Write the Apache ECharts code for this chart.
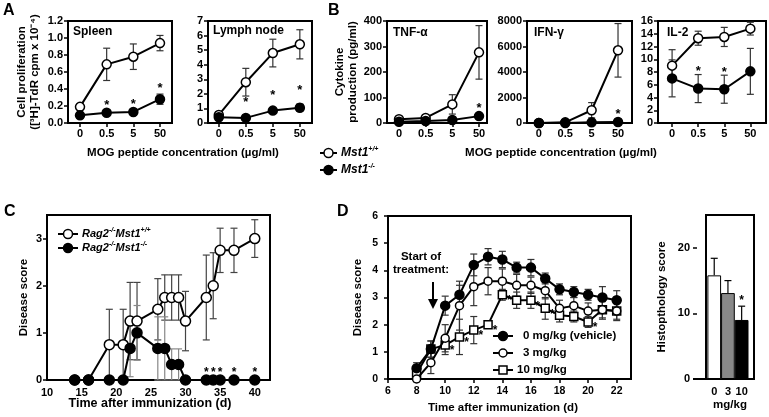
<!DOCTYPE html>
<html><head><meta charset="utf-8">
<script src="https://cdn.jsdelivr.net/npm/echarts@6/dist/echarts.min.js"></script>
<style>html,body{margin:0;padding:0;background:#fff}#c{width:769px;height:417px}</style>
</head><body><div id="c"></div>
<script>
// ---------------- DATA ----------------
const concLabels = ['0', '0.5', '5', '50'];
const concIdx = [0, 1, 2, 3];

const spleenWT = [0.19, 0.69, 0.78, 0.94];
const spleenWTErr = [0.02, 0.19, 0.15, 0.09];
const spleenKO = [0.09, 0.12, 0.13, 0.28];
const spleenKOErr = [0.02, 0.02, 0.02, 0.06];
const spleenStars = [1, 2, 3];

const lnWT = [0.55, 2.8, 4.8, 5.4];
const lnWTErr = [0.1, 0.95, 0.95, 1.0];
const lnKO = [0.4, 0.35, 0.85, 1.05];
const lnKOErr = [0.1, 0.1, 0.1, 0.25];
const lnStars = [1, 2, 3];

const tnfWT = [15, 20, 73, 277];
const tnfWTErr = [3, 5, 38, 105];
const tnfKO = [5, 8, 12, 27];
const tnfKOErr = [2, 2, 3, 5];
const tnfStars = [3];

const ifnWT = [0, 50, 1000, 5700];
const ifnWTErr = [20, 50, 600, 2100];
const ifnKO = [0, 0, 50, 80];
const ifnKOErr = [10, 10, 30, 60];
const ifnStars = [3];

const il2WT = [9.0, 13.3, 13.5, 14.8];
const il2WTErr = [2.5, 1.1, 1.5, 1.0];
const il2KO = [7.0, 5.4, 5.3, 8.1];
const il2KOErr = [2.9, 2.2, 2.2, 3.6];
const il2Stars = [1, 2];

const cDays = [14, 16, 19, 21, 22, 23, 26, 27, 28, 29, 30, 33, 34, 35, 37, 40];
const cWT = [0, 0, 0.75, 0.75, 1.25, 1.25, 1.5, 1.75, 1.75, 1.75, 1.25, 1.75, 2.0, 2.75, 2.75, 3.0];
const cWTErr = [0, 0, 0.75, 0.75, 0.82, 0.82, 0.65, 0.48, 0.48, 0.48, 0.63, 0.9, 0.7, 0.47, 0.47, 0.4];
const cKO = [0, 0, 0, 0, 0.67, 1.0, 0.67, 0.67, 0.33, 0.33, 0, 0, 0, 0, 0, 0];
const cKOErr = [0, 0, 0, 0, 0.6, 0.58, 0.67, 0.67, 0.33, 0.33, 0, 0, 0, 0, 0, 0];
const cStars = [11, 12, 13, 14, 15];

const dDays = [8, 9, 10, 11, 12, 13, 14, 15, 16, 17, 18, 19, 20, 21, 22];
const d0 = [0.4, 1.1, 2.7, 3.1, 4.2, 4.5, 4.4, 4.1, 4.1, 3.7, 3.3, 3.2, 3.1, 3.0, 2.9];
const d0Err = [0.2, 0.3, 0.35, 0.35, 0.4, 0.3, 0.3, 0.2, 0.3, 0.2, 0.2, 0.2, 0.2, 0.4, 0.35];
const d3 = [0.0, 0.6, 1.5, 2.7, 3.4, 3.6, 3.6, 3.45, 3.45, 3.25, 2.6, 2.7, 2.5, 2.55, 2.5];
const d3Err = [0.1, 0.4, 0.5, 0.9, 0.7, 0.5, 0.45, 0.4, 0.3, 0.3, 0.3, 0.3, 0.3, 0.35, 0.35];
const d10 = [0.2, 1.1, 1.25, 1.55, 1.8, 2.0, 3.1, 2.9, 2.9, 2.6, 2.35, 2.3, 2.1, 2.55, 2.5];
const d10Err = [0.1, 0.3, 0.35, 0.65, 0.5, 0.1, 0.2, 0.3, 0.3, 0.4, 0.25, 0.2, 0.2, 0.3, 0.3];
const d10Stars = [2, 3, 4, 5, 6, 8, 9, 12];

const barDoses = ['0', '3', '10'];
const barVals = [15.8, 13.1, 9.0];
const barErr = [2.6, 1.9, 2.1];
const barStars = [2];

// ---------------- HELPERS ----------------
const FONT = 'Liberation Sans, Arial, sans-serif';
const grids = [], xAxes = [], yAxes = [], series = [];

function addPanel(c) {
  const gi = grids.length;
  grids.push({left: c.left, top: c.top, width: c.width, height: c.height, show: true,
    borderColor: '#000', borderWidth: 2, backgroundColor: 'transparent',
    containLabel: false, outerBoundsMode: 'none'});
  xAxes.push({gridIndex: gi, type: 'value', min: c.xmin, max: c.xmax,
    axisLine: {show: false, onZero: false}, splitLine: {show: false},
    axisTick: {show: c.xTick !== false, length: 4, lineStyle: {color: '#000', width: 1.5}, customValues: c.xTicks},
    axisLabel: {customValues: c.xTicks, formatter: c.xFmt, margin: c.xMargin || 5,
      fontFamily: FONT, fontWeight: 'bold', fontSize: c.fs || 11, color: '#000'},
    name: c.xName || '', nameLocation: 'middle', nameGap: c.xNameGap || 20,
    nameTextStyle: {fontFamily: FONT, fontWeight: 'bold', fontSize: 11.5, color: '#000'}});
  yAxes.push({gridIndex: gi, type: 'value', min: c.ymin, max: c.ymax,
    axisLine: {show: false, onZero: false}, splitLine: {show: false}, offset: c.yOffset || 0,
    axisTick: {show: true, length: 4, lineStyle: {color: '#000', width: 1.5}, customValues: c.yTicks},
    axisLabel: {customValues: c.yTicks, formatter: c.yFmt, margin: c.yMargin || 5,
      fontFamily: FONT, fontWeight: 'bold', fontSize: c.fs || 11, color: '#000'},
    name: c.yName || '', nameLocation: 'middle', nameRotate: 90, nameGap: c.yNameGap || 20,
    nameTextStyle: {fontFamily: FONT, fontWeight: 'bold', fontSize: 11.5, color: '#000', lineHeight: 13, align: 'center'}});
  return gi;
}

function lineSeries(gi, xs, ys, filled, symbol, size, z) {
  return {type: 'line', xAxisIndex: gi, yAxisIndex: gi, z: z, clip: false, silent: true,
    data: xs.map((x, i) => [x, ys[i]]),
    symbol: symbol || 'circle', symbolSize: size || 9, showSymbol: true,
    lineStyle: {color: '#000', width: 2},
    itemStyle: {color: filled ? '#000' : '#fff', borderColor: '#000', borderWidth: 1.5, opacity: 1},
    emphasis: {disabled: true}};
}

function errSeries(gi, xs, ys, errs, color, cap, upOnly, z) {
  return {type: 'custom', xAxisIndex: gi, yAxisIndex: gi, z: z || 1, silent: true,
    data: xs.map((x, i) => [x, ys[i], errs[i]]),
    renderItem: function (p, api) {
      const x = api.value(0), y = api.value(1), e = api.value(2);
      if (!e) return null;
      const hi = api.coord([x, y + e]);
      const lo = api.coord([x, upOnly ? y : y - e]);
      const h = cap / 2, st = {stroke: color, lineWidth: 1.2};
      const ch = [
        {type: 'line', shape: {x1: lo[0], y1: lo[1], x2: hi[0], y2: hi[1]}, style: st},
        {type: 'line', shape: {x1: hi[0] - h, y1: hi[1], x2: hi[0] + h, y2: hi[1]}, style: st}];
      if (!upOnly) ch.push({type: 'line', shape: {x1: lo[0] - h, y1: lo[1], x2: lo[0] + h, y2: lo[1]}, style: st});
      return {type: 'group', children: ch};
    }};
}

function starSeries(gi, xs, ys, errs, idxs, dx, dy, fs) {
  return {type: 'custom', xAxisIndex: gi, yAxisIndex: gi, z: 8, silent: true,
    data: idxs.map(i => [xs[i], ys[i] + (errs ? errs[i] : 0)]),
    renderItem: function (p, api) {
      const c = api.coord([api.value(0), api.value(1)]);
      return {type: 'text', x: c[0] + dx, y: c[1] + dy,
        style: {text: '*', fill: '#000', fontFamily: FONT, fontWeight: 'bold', fontSize: fs || 13,
          align: 'center', verticalAlign: 'middle'}};
    }};
}

const concFmt = v => concLabels[Math.round(v)];

function concPanel(c, wt, wtE, ko, koE, stars, starDy) {
  const gi = addPanel(Object.assign({top: 21, height: 102, xTicks: concIdx, xFmt: concFmt}, c));
  series.push(errSeries(gi, concIdx, wt, wtE, '#333', 7, false, 1));
  series.push(errSeries(gi, concIdx, ko, koE, '#333', 7, false, 1));
  series.push(lineSeries(gi, concIdx, wt, false, 'circle', 9, 3));
  series.push(lineSeries(gi, concIdx, ko, true, 'circle', 9, 4));
  series.push(starSeries(gi, concIdx, ko, koE, stars, 0, starDy, 13));
}

// ---------------- PANELS A & B ----------------
concPanel({left: 68, width: 104, xmin: -0.45, xmax: 3.45, ymin: 0, ymax: 1.2,
  yTicks: [0, 0.2, 0.4, 0.6, 0.8, 1.0, 1.2], yFmt: v => Number(v).toFixed(1),
  yName: 'Cell proliferation\n([³H]-TdR cpm x 10⁻⁴)', yNameGap: 27},
  spleenWT, spleenWTErr, spleenKO, spleenKOErr, spleenStars, -6);
concPanel({left: 208, width: 104, xmin: -0.4, xmax: 3.45, ymin: 0, ymax: 7,
  yTicks: [0, 1, 2, 3, 4, 5, 6, 7], yFmt: v => String(v)},
  lnWT, lnWTErr, lnKO, lnKOErr, lnStars, -14);
concPanel({left: 387, width: 100, xmin: -0.45, xmax: 3.3, ymin: 0, ymax: 400,
  yTicks: [0, 100, 200, 300, 400], yFmt: v => String(v),
  yName: 'Cytokine\nproduction (pg/ml)', yNameGap: 23},
  tnfWT, tnfWTErr, tnfKO, tnfKOErr, tnfStars, -6);
concPanel({left: 527, width: 105, xmin: -0.45, xmax: 3.53, ymin: 0, ymax: 8000,
  yTicks: [0, 2000, 4000, 6000, 8000], yFmt: v => String(v)},
  ifnWT, ifnWTErr, ifnKO, ifnKOErr, ifnStars, -7);
concPanel({left: 658, width: 108, xmin: -0.54, xmax: 3.6, ymin: 0, ymax: 16,
  yTicks: [0, 2, 4, 6, 8, 10, 12, 14, 16], yFmt: v => String(v)},
  il2WT, il2WTErr, il2KO, il2KOErr, il2Stars, -3);

// ---------------- PANEL C ----------------
(function () {
  const gi = addPanel({left: 47, top: 215, width: 223, height: 165, xmin: 10, xmax: 42.2,
    ymin: 0, ymax: 3.5, xTicks: [10, 15, 20, 25, 30, 35, 40], yTicks: [0, 1, 2, 3],
    xFmt: v => String(v), yFmt: v => String(v), xMargin: 7, yMargin: 5, xTick: false,
    yName: 'Disease score', yNameGap: 17});
  series.push(errSeries(gi, cDays, cWT, cWTErr, '#444', 7, false, 1));
  series.push(errSeries(gi, cDays, cKO, cKOErr, '#888', 7, false, 1));
  series.push(lineSeries(gi, cDays, cWT, false, 'circle', 10, 3));
  series.push(lineSeries(gi, cDays, cKO, true, 'circle', 10, 4));
  series.push(starSeries(gi, cDays, cKO, null, cStars, 0, -7, 12));
})();

// ---------------- PANEL D ----------------
(function () {
  const gi = addPanel({left: 388, top: 216, width: 243, height: 163, xmin: 6, xmax: 23,
    ymin: 0, ymax: 6, xTicks: [6, 8, 10, 12, 14, 16, 18, 20, 22], yTicks: [0, 1, 2, 3, 4, 5, 6],
    xFmt: v => String(v), yFmt: v => String(v), xMargin: 7, yMargin: 10, fs: 10.5,
    yName: 'Disease score', yNameGap: 24});
  series.push(errSeries(gi, dDays, d10, d10Err, '#333', 7, false, 1));
  series.push(errSeries(gi, dDays, d3, d3Err, '#333', 7, false, 1));
  series.push(errSeries(gi, dDays, d0, d0Err, '#333', 7, false, 1));
  series.push(lineSeries(gi, dDays, d10, false, 'rect', 8, 3));
  series.push(lineSeries(gi, dDays, d3, false, 'circle', 8, 4));
  series.push(lineSeries(gi, dDays, d0, true, 'circle', 9, 5));
  series.push(starSeries(gi, dDays, d10, null, d10Stars, 7, 6, 12));
})();

// ---------------- BAR PANEL ----------------
(function () {
  const gi = addPanel({left: 706, top: 215, width: 48, height: 164, xmin: -0.6, xmax: 2.9,
    ymin: 0, ymax: 25, xTicks: [0, 1, 2], yTicks: [0, 10, 20], xTick: false,
    xFmt: v => barDoses[Math.round(v)], yFmt: v => String(v), xMargin: 7, yMargin: 7,
    yOffset: 9, yName: 'Histopthology score', yNameGap: 29,
    xName: 'mg/kg', xNameGap: 20});
  const colors = ['#fff', '#888', '#000'];
  series.push({type: 'bar', xAxisIndex: gi, yAxisIndex: gi, barWidth: 13.7, z: 2, silent: true,
    data: barVals.map((v, i) => ({value: [i, v], itemStyle: {color: colors[i], borderColor: '#000', borderWidth: 1}}))});
  series.push(errSeries(gi, [0, 1, 2], barVals, barErr, '#000', 7, true, 3));
  series.push(starSeries(gi, [0, 1, 2], barVals, barErr, barStars, 0, -5, 12));
})();

// ---------------- TEXT / LEGENDS ----------------
function txt(x, y, s, size, opts) {
  return Object.assign({type: 'text', x: x, y: y, silent: true,
    style: Object.assign({text: s, fill: '#000', fontFamily: FONT, fontWeight: 'bold', fontSize: size,
      align: 'left', verticalAlign: 'middle'}, opts || {})});
}
const richLeg = (size, sup) => ({
  i: {fontFamily: FONT, fontWeight: 'bold', fontStyle: 'italic', fontSize: size, lineHeight: size + 3, fill: '#000'},
  s: {fontFamily: FONT, fontWeight: 'bold', fontStyle: 'italic', fontSize: sup, lineHeight: sup, verticalAlign: 'top', fill: '#000'}
});
function legItem(x1, x2, y, filled, shape, r, label, size, sup) {
  const cx = (x1 + x2) / 2;
  const sym = shape === 'rect'
    ? {type: 'rect', shape: {x: cx - r, y: y - r, width: 2 * r, height: 2 * r}, style: {fill: filled ? '#000' : '#fff', stroke: '#000', lineWidth: 1.5}}
    : {type: 'circle', shape: {cx: cx, cy: y, r: r}, style: {fill: filled ? '#000' : '#fff', stroke: '#000', lineWidth: 1.5}};
  return [
    {type: 'line', shape: {x1: x1, y1: y, x2: x2, y2: y}, style: {stroke: '#000', lineWidth: 2}},
    sym,
    {type: 'text', x: x2 + 4, y: y, style: {text: label, rich: richLeg(size, sup), verticalAlign: 'middle', align: 'left', fill: '#000',
      fontFamily: FONT, fontWeight: 'bold', fontSize: size}}
  ];
}

const graphic = [
  txt(3, 11, 'A', 16), txt(328, 11, 'B', 16), txt(4, 212, 'C', 16), txt(337, 212, 'D', 16),
  txt(73, 32, 'Spleen', 12), txt(213, 31, 'Lymph node', 12), txt(393, 33, 'TNF-α', 12),
  txt(534, 33, 'IFN-γ', 12), txt(667, 33, 'IL-2', 12),
  txt(183, 153, 'MOG peptide concentration (µg/ml)', 11.5, {align: 'center'}),
  txt(561, 153, 'MOG peptide concentration (µg/ml)', 11.5, {align: 'center'}),
  txt(150, 404, 'Time after immunization (d)', 12.5, {align: 'center'}),
  txt(503, 408, 'Time after immunization (d)', 11.5, {align: 'center'}),
  txt(421, 257, 'Start of', 11.5, {align: 'center'}),
  txt(421, 270, 'treatment:', 11.5, {align: 'center'}),
  {type: 'line', shape: {x1: 433, y1: 282, x2: 433, y2: 302}, style: {stroke: '#000', lineWidth: 2}},
  {type: 'polygon', shape: {points: [[428, 299], [438, 299], [433, 309]]}, style: {fill: '#000'}},
  {type: 'line', shape: {x1: 693, y1: 379, x2: 706, y2: 379}, style: {stroke: '#000', lineWidth: 2}},
  txt(523, 336, '0 mg/kg (vehicle)', 11.5), txt(523, 353, '3 mg/kg', 11.5), txt(517, 370, '10 mg/kg', 11.5)
].concat(
  legItem(320, 337, 153, false, 'circle', 4.5, '{i|Mst1}{s|+/+}', 12, 7),
  legItem(320, 337, 170, true, 'circle', 4.5, '{i|Mst1}{s|-/-}', 12, 7),
  legItem(58, 78, 234, false, 'circle', 4.5, '{i|Rag2}{s|-/-}{i|Mst1}{s|+/+}', 11, 7),
  legItem(58, 78, 248, true, 'circle', 4.5, '{i|Rag2}{s|-/-}{i|Mst1}{s|-/-}', 11, 7),
  legItem(493, 513, 336, true, 'circle', 4.5, '', 11, 7).slice(0, 2),
  legItem(493, 513, 353, false, 'circle', 4, '', 11, 7).slice(0, 2),
  legItem(493, 513, 370, false, 'rect', 4, '', 11, 7).slice(0, 2)
);

const chart = echarts.init(document.getElementById('c'), null, {renderer: 'canvas'});
chart.setOption({
  animation: false,
  backgroundColor: '#fff',
  grid: grids, xAxis: xAxes, yAxis: yAxes, series: series,
  graphic: {elements: graphic}
});
</script>
</body></html>
